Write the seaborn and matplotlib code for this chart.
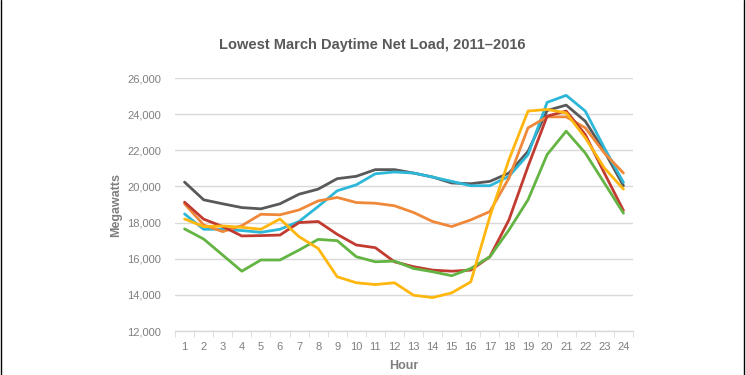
import numpy as np
import pandas as pd
import seaborn as sns
from matplotlib import pyplot as plt
from matplotlib.lines import Line2D

hours = list(range(1, 25))
years = ['2011', '2012', '2013', '2014', '2015', '2016']

load_2011 = [20240, 19260, 19040, 18830, 18760, 19040, 19570, 19850, 20430, 20560, 20930, 20930,
             20740, 20520, 20190, 20150, 20280, 20740, 21940, 24200, 24500, 23610, 21940, 20040]
load_2012 = [18480, 17630, 17630, 17560, 17460, 17630, 18060, 18890, 19760, 20090, 20700, 20800,
             20740, 20520, 20280, 20040, 20040, 20560, 21760, 24650, 25040, 24170, 22130, 20220]
load_2013 = [19040, 17870, 17500, 17830, 18460, 18430, 18700, 19200, 19390, 19110, 19070, 18930,
             18560, 18060, 17780, 18150, 18610, 20460, 23240, 23850, 23850, 23240, 21850, 20740]
load_2014 = [19130, 18190, 17780, 17260, 17280, 17310, 18000, 18060, 17350, 16760, 16610, 15830,
             15560, 15370, 15310, 15370, 16110, 18150, 21110, 23890, 24170, 22870, 20740, 18670]
load_2015 = [17650, 17090, 16200, 15310, 15930, 15930, 16480, 17070, 17000, 16110, 15830, 15870,
             15460, 15280, 15060, 15460, 16110, 17590, 19260, 21760, 23060, 21850, 20190, 18520]
load_2016 = [18200, 17780, 17810, 17740, 17630, 18200, 17220, 16570, 15000, 14670, 14570, 14670,
             13980, 13850, 14110, 14720, 18330, 21480, 24170, 24260, 24070, 22690, 21020, 19850]

colors = ['#595959', '#2DB7D8', '#F0883A', '#C23B30', '#63B443', '#FFB70F']
grey_text = '#595959'

series = [load_2011, load_2012, load_2013, load_2014, load_2015, load_2016]
df = pd.concat([
    pd.DataFrame({'Hour': hours, 'Megawatts': vals, 'Year': yr})
    for yr, vals in zip(years, series)
])

sns.set_style('white')
plt.rcParams['font.family'] = ['Liberation Sans', 'DejaVu Sans']

fig = plt.figure(figsize=(7.46, 3.75), dpi=100)
ax = fig.add_axes([0.2346, 0.1173, 0.6139, 0.6747])

sns.lineplot(data=df, x='Hour', y='Megawatts', hue='Year', palette=colors,
             linewidth=2.0, legend=False, ax=ax)

ax.set_xlim(0.5, 24.5)
ax.set_ylim(12000, 26000)
ax.set_yticks(np.arange(12000, 26001, 2000))
ax.set_yticklabels([f'{v:,}' for v in range(12000, 26001, 2000)])
ax.set_xticks(hours)
ax.set_xticks(np.arange(0.5, 25, 1), minor=True)
ax.grid(axis='y', color='#D9D9D9', linewidth=1)
ax.set_axisbelow(True)

for s in ['top', 'right', 'left']:
    ax.spines[s].set_visible(False)
ax.spines['bottom'].set_color('#D9D9D9')
ax.spines['bottom'].set_linewidth(1)

ax.tick_params(axis='x', which='major', length=0, labelsize=8, labelcolor='#7F7F7F', pad=8)
ax.tick_params(axis='x', which='minor', length=4, color='#D9D9D9', bottom=True)
ax.tick_params(axis='y', length=0, labelsize=8, labelcolor='#7F7F7F', pad=10)

ax.set_xlabel('Hour', fontsize=9, fontweight='bold', color='#7F7F7F', labelpad=6)
ax.set_ylabel('Megawatts', fontsize=9, fontweight='bold', color='#7F7F7F', labelpad=4)

fig.text(0.499, 0.88, 'Lowest March Daytime Net Load, 2011\u20132016', ha='center', va='center',
         fontsize=10.5, fontweight='bold', color=grey_text)

# thin frame edges at left and right like the source screenshot
fig.add_artist(Line2D([0.0007, 0.0007], [0, 1], transform=fig.transFigure, color='black', linewidth=1))
fig.add_artist(Line2D([0.9975, 0.9975], [0, 1], transform=fig.transFigure, color='black', linewidth=1))

fig.savefig('out.png', dpi=100)
